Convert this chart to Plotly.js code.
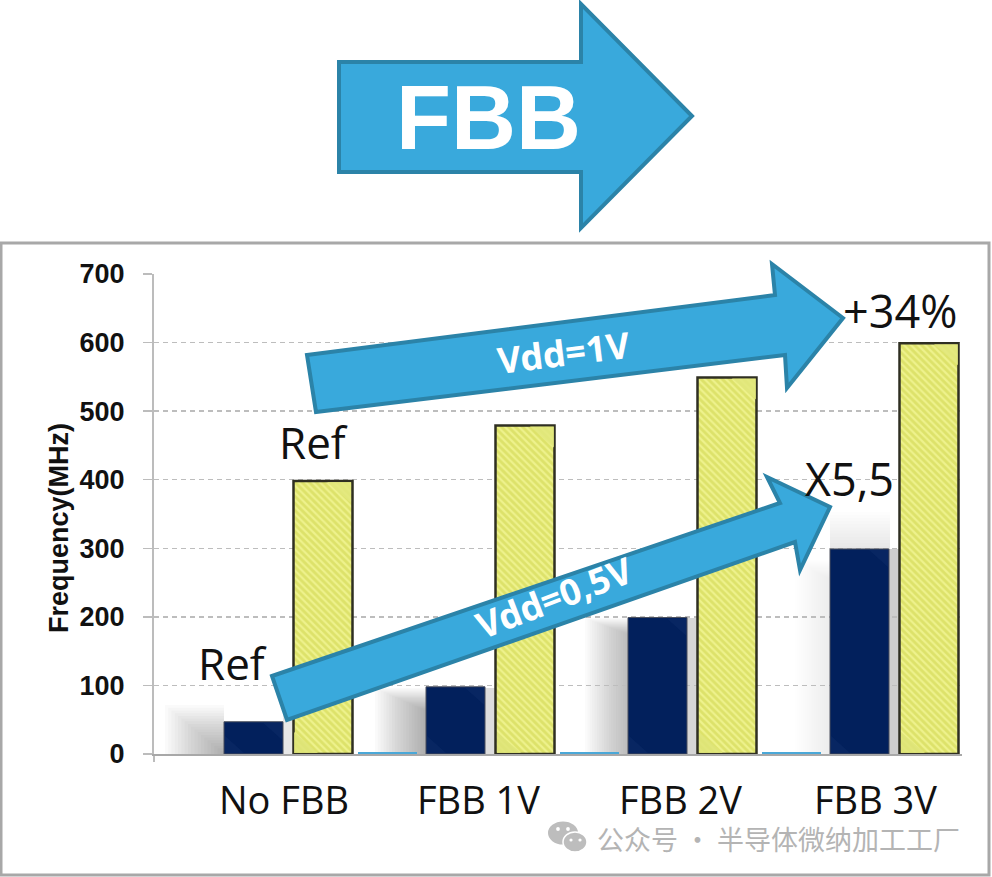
<!DOCTYPE html>
<html><head><meta charset="utf-8">
<script src="https://cdn.plot.ly/plotly-3.0.1.min.js"></script>
<style>html,body{margin:0;padding:0;background:#fff}#c{width:992px;height:877px}</style></head>
<body><div id="c"></div>
<script>
const categories = ['No FBB','FBB 1V','FBB 2V','FBB 3V'];
const vddRefLine = [null,3,3,3];
const vdd05 = [47,98,199,299];
const vdd1 = [398,479,549,599];
const yTicks = [0,100,200,300,400,500,600,700];

const L=154,R=962,T=274,B=754;
const px=x=>(x-L)/(R-L), py=y=>(B-y)/(B-T);
const poly=(pts,fill,line,w,layer)=>({type:'path',xref:'paper',yref:'paper',layer:layer||'above',
  path:'M'+pts.map(p=>px(p[0])+','+py(p[1])).join('L')+'Z',fillcolor:fill,line:{color:line||'rgba(0,0,0,0)',width:w||0}});
const rect=(x0,y0,x1,y1,fill,line,w,layer)=>({type:'rect',xref:'paper',yref:'paper',layer:layer||'above',
  x0:px(x0),x1:px(x1),y0:py(y0),y1:py(y1),fillcolor:fill,line:{color:line||'rgba(0,0,0,0)',width:w||0}});
const ell=(cx,cy,rx,ry,fill,line,w)=>({type:'circle',xref:'paper',yref:'paper',layer:'above',
  x0:px(cx-rx),x1:px(cx+rx),y0:py(cy+ry),y1:py(cy-ry),fillcolor:fill,line:{color:line||'rgba(0,0,0,0)',width:w||0}});
// soft shadow: stacked translucent rectangles, darkening towards the right/bottom
function shadow(x0,y0,x1,y1,alpha,vf,n){const out=[];n=n||18;
  for(let i=0;i<n;i++){const f=i/n;
    out.push(rect(x0+(x1-x0)*f,y0+(y1-y0)*f*vf,x1,y1,'rgba(90,90,90,'+alpha+')',null,0,'below'));}
  return out;}
function shadowUp(x0,y0,x1,y1,alpha,n){const out=[];n=n||12;
  for(let i=0;i<n;i++){const f=i/n;
    out.push(rect(x0,y0+(y1-y0)*f,x1,y1,'rgba(90,90,90,'+alpha+')',null,0,'below'));}
  return out;}
const BLUE='#39a9dc',EDGE='#2b83a8';
const NL=[224,426,628,830], YL=[293,496,698,900], BW=59, perV=(B-T)/700;
const bevels=[];
vdd1.forEach((v,i)=>{const top=B-v*perV,x0=YL[i],x1=x0+BW;
  bevels.push(poly([[x1-1,top+1],[x1-1,top+22],[x1-25,top+1]],'rgba(226,231,125,0.85)'));
  bevels.push(poly([[x0+1,B-1],[x0+1,B-22],[x0+25,B-1]],'rgba(222,228,120,0.85)'));});
vdd05.forEach((v,i)=>{const top=B-v*perV,x0=NL[i],x1=x0+BW;
  bevels.push(poly([[x1-1,top+1],[x1-1,top+18],[x1-20,top+1]],'rgba(10,40,100,0.8)'));
  bevels.push(poly([[x0+1,B-1],[x0+1,B-18],[x0+20,B-1]],'rgba(10,40,100,0.8)'));});
const shapes=[
  rect(1,243,989,875,'rgba(0,0,0,0)','#a8a8a8',3,'below'),
  ...shadow(165,705,224,754,0.028,1.0),
  ...shadow(375,688,426,754,0.026,0.35),
  ...shadow(585,618,628,754,0.024,0.12),
  ...shadow(795,560,830,754,0.007,0.1),
  ...shadowUp(830,512,890,549,0.012),
  rect(283,715,293,754,'rgba(120,120,120,0.18)',null,0,'below'),
  rect(485,688,496,754,'rgba(120,120,120,0.25)',null,0,'below'),
  rect(687,618,698,754,'rgba(120,120,120,0.3)',null,0,'below'),
  rect(889,549,900,754,'rgba(120,120,120,0.36)',null,0,'below'),
  rect(153,754,155,762,'#bcbcbc',null,0,'below'),
  ...bevels,
  poly([[339,62],[581,62],[581,4],[692,116],[581,228],[581,172],[339,172]],BLUE,EDGE,4),
  poly([[307,355],[775,295],[772,264],[843,318],[787,388],[785,355],[316,412]],BLUE,EDGE,4),
  poly([[272,676],[780,503],[767,477],[830,507],[800,570],[795,542],[287,720]],BLUE,EDGE,4),
  ell(563,833,15,11.5,'#bdbdbd'),
  ell(575,842,12,10,'#bdbdbd','#ffffff',1.5),
  ell(558,829,1.9,1.9,'#fff'),ell(568,829,1.9,1.9,'#fff'),
  ell(571,840,1.6,1.6,'#fff'),ell(580,840,1.6,1.6,'#fff')
];
const ann=(t,x,y,size,color,opt)=>Object.assign({text:t,xref:'paper',yref:'paper',x:px(x),y:py(y),
  xanchor:'center',yanchor:'middle',showarrow:false,font:{family:'"Open Sans",sans-serif',size:size,color:color}},opt||{});
const labelCenters=[284,478,680,875];
const annotations=[
  ann('<b>FBB</b>',488,118,90,'#ffffff',{font:{family:'"Liberation Sans",Arial,sans-serif',size:90,color:'#fff'}}),
  ann('<b>Vdd=1V</b>',563,352,37,'#ffffff',{textangle:-7,font:{family:'"Noto Sans",sans-serif',size:36,color:'#fff'}}),
  ann('<b>Vdd=0,5V</b>',554,597,37,'#ffffff',{textangle:-21,font:{family:'"Noto Sans",sans-serif',size:36,color:'#fff'}}),
  ann('Ref',313,442,44,'#111'),
  ann('Ref',232,663,44,'#111'),
  ann('+34%',900,310,45,'#111'),
  ann('X5,5',849,478,45,'#111'),
  ...categories.map((c,i)=>ann(c,labelCenters[i],799,38,'#111')),
  ann('公众号 · 半导体微纳加工工厂',778,838,27,'#b4b4b4',{font:{family:'"Noto Sans CJK SC",sans-serif',size:27,color:'#b4b4b4'}}),
  ann('<b>Frequency(MHz)</b>',59,528,27,'#111',{textangle:-90,font:{family:'"Liberation Sans",Arial,sans-serif',size:27,color:'#111'}})
];
const traces=[
 {type:'bar',name:'Ref line',x:categories,y:vddRefLine,width:59/202,offset:-99/202,marker:{color:'#4aa8d8'},hoverinfo:'skip'},
 {type:'bar',name:'Vdd=0,5V',x:categories,y:vdd05,width:59/202,offset:-31/202,marker:{color:'#02205c',line:{color:'#4a4f5c',width:1}}},
 {type:'bar',name:'Vdd=1V',x:categories,y:vdd1,width:59/202,offset:38.5/202,marker:{color:'#e2e872',
    line:{color:'#2f2f22',width:2.5},
    pattern:{shape:'\\',bgcolor:'#dde26a',fgcolor:'#eef28c',size:5,solidity:0.45,fillmode:'replace'}}}
];
const layout={width:992,height:877,margin:{l:L,r:992-R,t:T,b:877-B,pad:0},
  paper_bgcolor:'#fff',plot_bgcolor:'rgba(0,0,0,0)',showlegend:false,
  barmode:'group',bargap:0,
  font:{family:'"Liberation Sans",Arial,sans-serif',color:'#111'},
  xaxis:{type:'category',categoryarray:categories,showticklabels:false,ticks:'',showgrid:false,
    showline:true,linecolor:'#a8a8a8',linewidth:1.5,zeroline:false},
  yaxis:{range:[0,700],tickvals:yTicks,ticks:'outside',ticklen:9,tickcolor:'#bcbcbc',tickwidth:1.5,
    ticklabelstandoff:13,
    showline:true,linecolor:'#bcbcbc',linewidth:2,zeroline:false,
    gridcolor:'#bdbdbd',griddash:'5px,4px',gridwidth:1.5,
    tickfont:{size:27,family:'"Liberation Sans",Arial,sans-serif',weight:700,color:'#111'}},
  shapes,annotations};
Plotly.newPlot('c',traces,layout,{staticPlot:true,displayModeBar:false});
</script></body></html>
